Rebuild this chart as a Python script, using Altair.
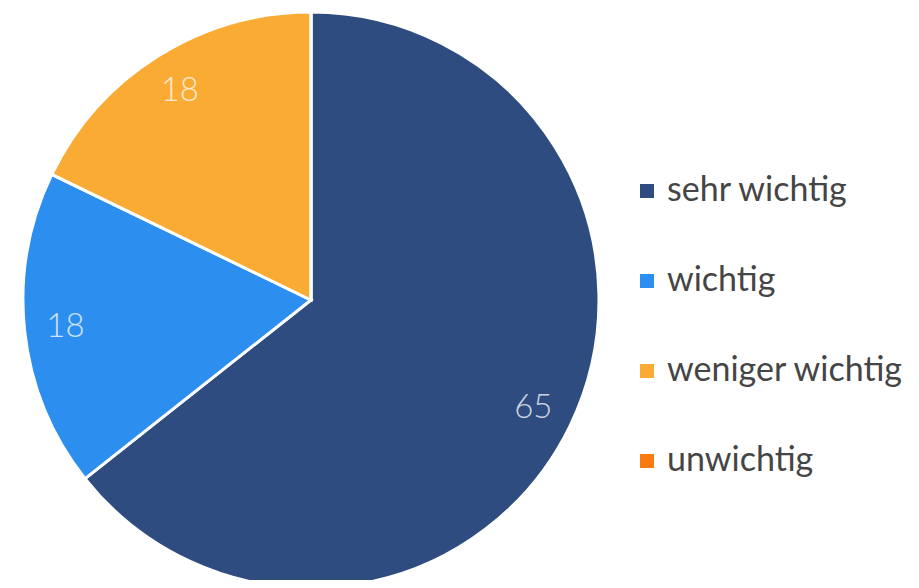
import altair as alt
import pandas as pd

categories = ["sehr wichtig", "wichtig", "weniger wichtig", "unwichtig"]
values = [65, 18, 18, 0]
colors = ["#2E4C80", "#2C8EEF", "#F9AB33", "#F97A10"]

df = pd.DataFrame({"cat": categories, "val": values, "idx": list(range(len(categories)))})

CX, CY, R = 303, 292, 288

base = alt.Chart(df).encode(
    theta=alt.Theta("val:Q", stack=True),
    order=alt.Order("idx:O"),
)

color = alt.Color(
    "cat:N",
    scale=alt.Scale(domain=categories, range=colors),
    sort=categories,
    legend=alt.Legend(
        title=None,
        orient="none",
        legendX=622,
        legendY=166,
        symbolType="square",
        symbolSize=196,
        symbolStrokeWidth=0,
        labelFont="Lato",
        labelFontSize=34,
        labelColor="#454545",
        labelLimit=400,
        rowPadding=56,
        labelOffset=3,
    ),
)

arcs = base.mark_arc(stroke="white", strokeWidth=3).encode(
    color=color,
    x=alt.value(CX),
    y=alt.value(CY),
    radius=alt.value(R),
)

text = base.mark_text(
    font="Lato", fontSize=33, fontWeight=300, color="white", opacity=0.75
).encode(
    text=alt.condition("datum.val > 0", alt.Text("val:Q"), alt.value("")),
    x=alt.value(CX),
    y=alt.value(CY),
    radius=alt.value(247),
)

chart = (
    alt.layer(arcs, text)
    .properties(width=903, height=572, padding=0, autosize="none", background="white")
    .configure_view(stroke=None)
)

chart.save("out.html", embed_options={"renderer": "svg", "actions": False})
